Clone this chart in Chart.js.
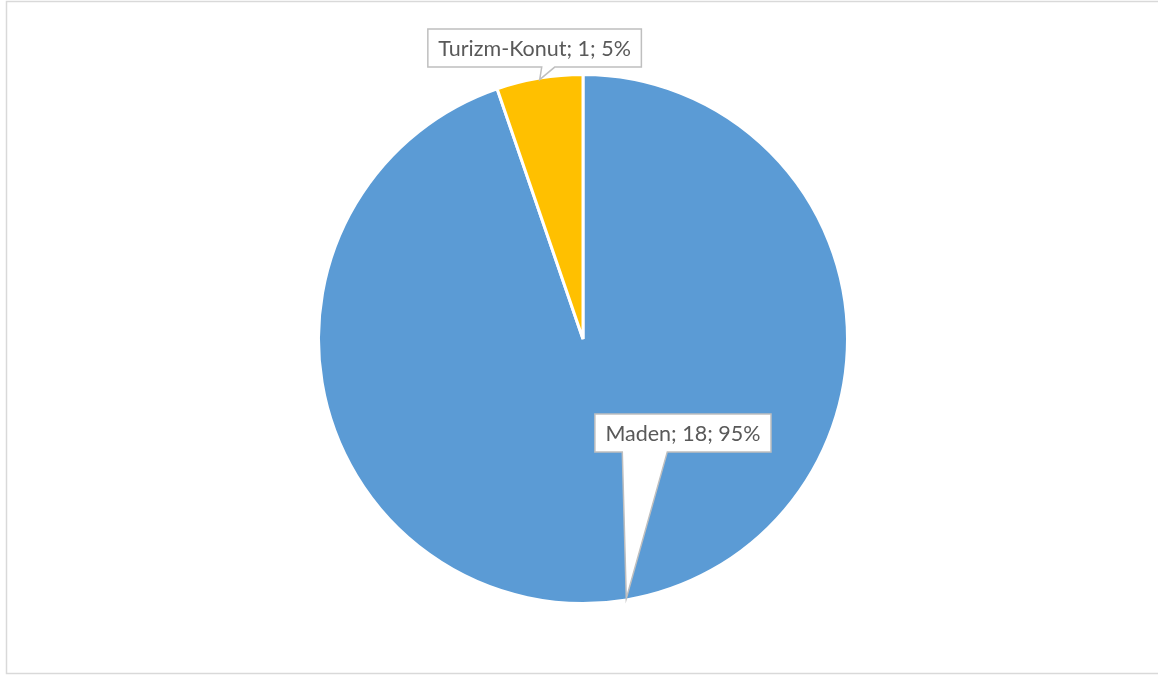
<!DOCTYPE html>
<html>
<head>
<meta charset="utf-8">
<script src="https://cdn.jsdelivr.net/npm/chart.js@4"></script>
<style>
  html, body { margin: 0; padding: 0; background: #ffffff; }
  canvas { display: block; }
</style>
</head>
<body>
<canvas id="pie" width="1158" height="675"></canvas>
<script>
// Project counts by category
const categories = ['Maden', 'Turizm-Konut'];
const counts = [18, 1];
const sliceColors = ['#5B9BD5', '#FFC000'];

const total = counts.reduce((a, b) => a + b, 0);
const labelTexts = categories.map((c, i) => `${c}; ${counts[i]}; ${Math.round(counts[i] / total * 100)}%`);

// Frame around the whole chart
const framePlugin = {
  id: 'frame',
  beforeDraw(chart) {
    const ctx = chart.ctx;
    ctx.save();
    ctx.fillStyle = '#ffffff';
    ctx.fillRect(0, 0, chart.width, chart.height);
    ctx.strokeStyle = '#D9D9D9';
    ctx.lineWidth = 1.5;
    ctx.strokeRect(6.5, 1.5, chart.width + 10, 672);
    ctx.restore();
  }
};

// Callout data labels: white box with a pointer to the slice edge
const calloutPlugin = {
  id: 'callouts',
  afterDatasetsDraw(chart, args, opts) {
    const ctx = chart.ctx;
    const meta = chart.getDatasetMeta(0);
    ctx.save();
    ctx.font = opts.font;
    ctx.textAlign = 'center';
    ctx.textBaseline = 'middle';
    meta.data.forEach((arc, i) => {
      const p = opts.placement[i];
      const R = arc.outerRadius - 1.5;
      const mid = (arc.startAngle + arc.endAngle) / 2;
      const tipX = arc.x + Math.cos(mid) * R;
      const tipY = arc.y + Math.sin(mid) * R;
      const cx = arc.x + p.dx * R;
      const cy = arc.y + p.dy * R;
      const text = labelTexts[i];
      const w = ctx.measureText(text).width + opts.padX * 2;
      const h = opts.boxHeight;
      const l = cx - w / 2, r = cx + w / 2, t = cy - h / 2, b = cy + h / 2;
      const b1 = tipX + p.base[0], b2 = tipX + p.base[1];

      ctx.beginPath();
      ctx.moveTo(l, t);
      ctx.lineTo(r, t);
      ctx.lineTo(r, b);
      ctx.lineTo(b2, b);
      ctx.lineTo(tipX, tipY);
      ctx.lineTo(b1, b);
      ctx.lineTo(l, b);
      ctx.closePath();
      ctx.fillStyle = '#ffffff';
      ctx.fill();
      ctx.strokeStyle = '#BFBFBF';
      ctx.lineWidth = 1.5;
      ctx.lineJoin = 'miter';
      ctx.stroke();

      ctx.fillStyle = '#595959';
      ctx.fillText(text, cx, cy + 1);
    });
    ctx.restore();
  }
};

new Chart(document.getElementById('pie'), {
  type: 'pie',
  data: {
    labels: categories,
    datasets: [{
      data: counts,
      backgroundColor: sliceColors,
      borderColor: '#ffffff',
      borderWidth: 3
    }]
  },
  options: {
    responsive: false,
    animation: false,
    layout: { padding: { left: 8, right: 0, top: 73, bottom: 70 } },
    plugins: {
      legend: { display: false },
      tooltip: { enabled: false },
      callouts: {
        font: '21.5px Lato, "Open Sans", sans-serif',
        padX: 10.5,
        boxHeight: 38,
        placement: [
          { dx: 0.380, dy: 0.357, base: [-4, 41] },
          { dx: -0.184, dy: -1.106, base: [2, 15] }
        ]
      }
    }
  },
  plugins: [framePlugin, calloutPlugin]
});
</script>
</body>
</html>
